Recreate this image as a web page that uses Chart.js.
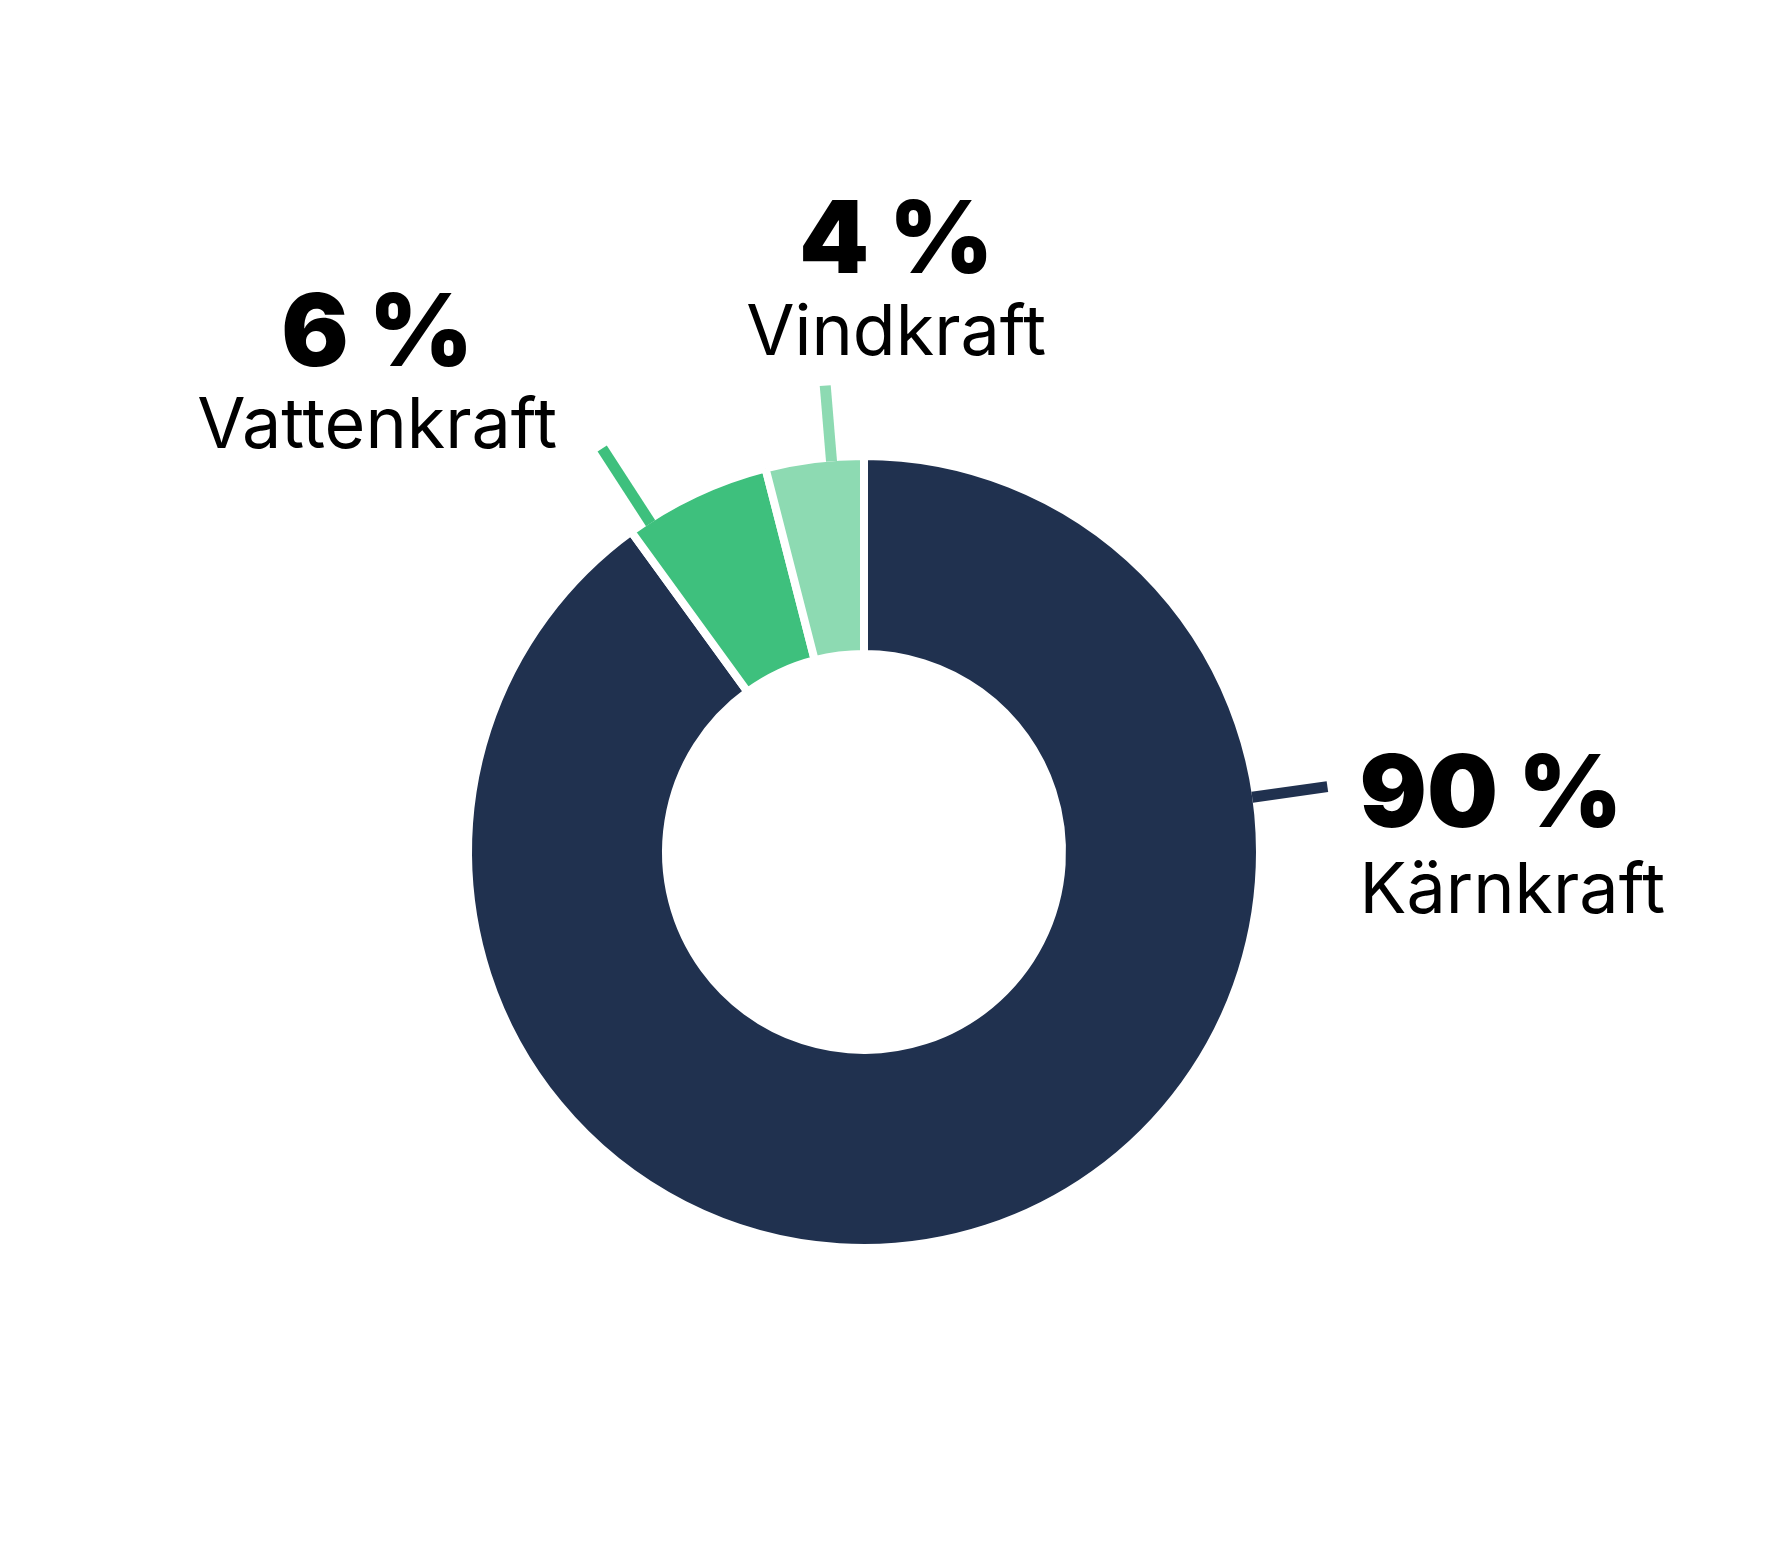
<!DOCTYPE html>
<html>
<head>
<meta charset="utf-8">
<script src="https://cdn.jsdelivr.net/npm/chart.js@4/dist/chart.umd.min.js"></script>
<style>
  html, body { margin: 0; padding: 0; background: #fff; }
  #wrap { width: 1784px; height: 1567px; }
</style>
</head>
<body>
<div id="wrap"><canvas id="chart"></canvas></div>
<script>
// ── Data ─────────────────────────────────────────────────────────────────────
const labels  = ["Kärnkraft", "Vattenkraft", "Vindkraft"];
const values  = [90, 6, 4];
const pctText = ["90 %", "6 %", "4 %"];
const colors  = ["#20314f", "#3ec07d", "#8ddab2"];

// ── Label layout (leader position along arc, leader length, text offsets) ──
const labelStyle = [
  { frac: 0.253, len: 72, align: "left",   dx: 32,   pctDy: 40,   nameDy: 126 },
  { frac: 0.14,  len: 85, align: "center", dx: -225, pctDy: -82,  nameDy: 0 },
  { frac: 0.67,  len: 72, align: "center", dx: 71,   pctDy: -113, nameDy: -31 },
];

const leaderLabels = {
  id: "leaderLabels",
  afterDatasetsDraw(chart) {
    const { ctx } = chart;
    const arcs = chart.getDatasetMeta(0).data;
    arcs.forEach((arc, i) => {
      const st = labelStyle[i];
      const { x, y, startAngle, endAngle, outerRadius } = arc.getProps(
        ["x", "y", "startAngle", "endAngle", "outerRadius"], true);
      const a = startAngle + st.frac * (endAngle - startAngle);
      const r0 = outerRadius - 4, r1 = outerRadius + st.len;
      let x0 = x + Math.cos(a) * r0, y0 = y + Math.sin(a) * r0;
      let x1 = x + Math.cos(a) * r1, y1 = y + Math.sin(a) * r1;

      ctx.save();
      ctx.strokeStyle = colors[i];
      ctx.lineWidth = 11;
      ctx.beginPath();
      ctx.moveTo(x0, y0);
      ctx.lineTo(x1, y1);
      ctx.stroke();

      ctx.fillStyle = "#000";
      ctx.textAlign = st.align;
      ctx.textBaseline = "alphabetic";
      ctx.font = "900 100px Inter, 'DejaVu Sans', sans-serif";
      ctx.fillText(pctText[i], x1 + st.dx, y1 + st.pctDy);
      ctx.font = "400 70px Inter, 'DejaVu Sans', sans-serif";
      ctx.fillText(labels[i], x1 + st.dx, y1 + st.nameDy);
      ctx.restore();
    });
  },
};

new Chart(document.getElementById("chart"), {
  type: "doughnut",
  data: {
    labels,
    datasets: [{
      data: values,
      backgroundColor: colors,
      borderColor: "#fff",
      borderWidth: 8,
      hoverOffset: 0,
    }],
  },
  options: {
    responsive: true,
    maintainAspectRatio: false,
    animation: false,
    cutout: "50%",
    layout: { padding: { left: 464, right: 520, top: 452, bottom: 315 } },
    plugins: {
      legend: { display: false },
      tooltip: { enabled: false },
    },
  },
  plugins: [leaderLabels],
});
</script>
</body>
</html>
